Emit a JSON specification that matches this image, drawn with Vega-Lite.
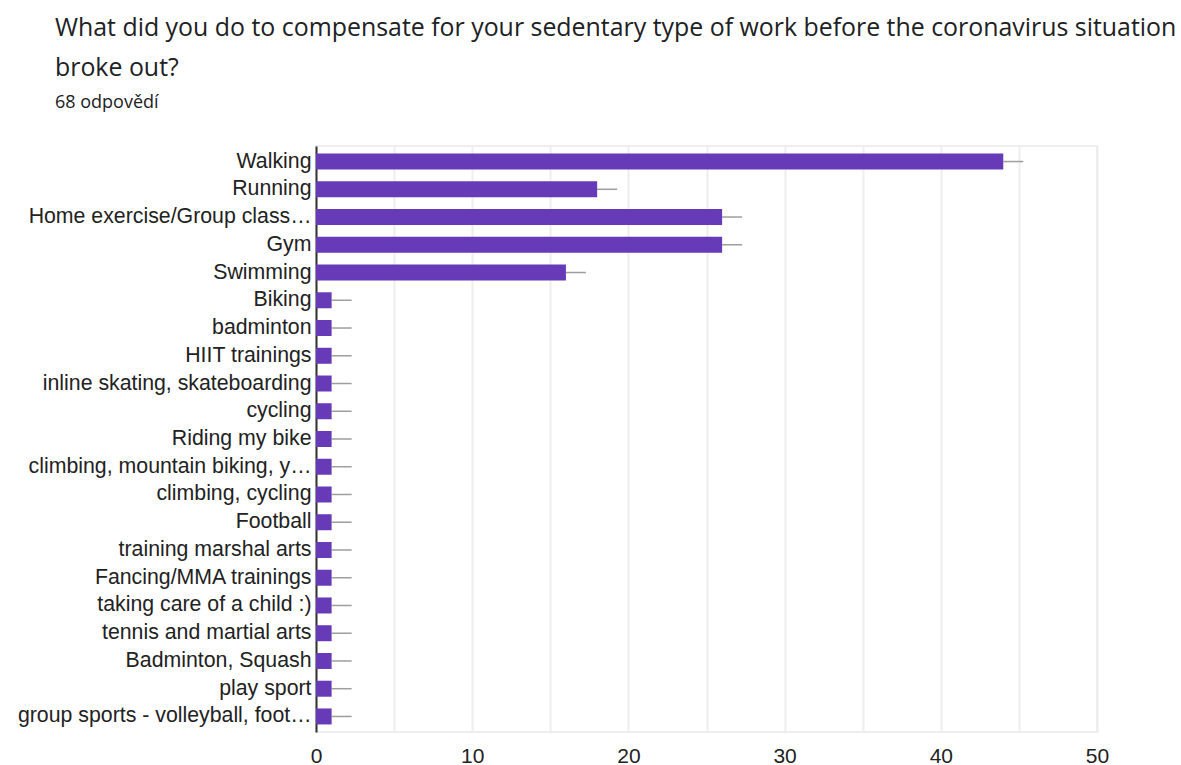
{
  "$schema": "https://vega.github.io/schema/vega-lite/v6.json",
  "autosize": "none",
  "width": 781,
  "height": 586,
  "padding": {"left": 316, "top": 146, "right": 84, "bottom": 33},
  "background": "white",
  "title": {
    "text": ["What did you do to compensate for your sedentary type of work before the coronavirus situation", "broke out?"],
    "subtitle": "68 odpovědí",
    "anchor": "start",
    "frame": "group",
    "dx": -261,
    "offset": 34,
    "font": "Open Sans",
    "fontSize": 24.9,
    "fontWeight": "normal",
    "lineHeight": 40,
    "color": "#202124",
    "subtitleFont": "Open Sans",
    "subtitleFontSize": 18,
    "subtitleColor": "#202124",
    "subtitlePadding": 13
  },
  "config": {
    "view": {"stroke": "#eeeeee", "strokeWidth": 2},
    "axis": {"labelFont": "Liberation Sans", "labelColor": "#222222"}
  },
  "data": {
    "values": [
      {"activity": "Walking", "count": 44},
      {"activity": "Running", "count": 18},
      {"activity": "Home exercise/Group class…", "count": 26},
      {"activity": "Gym", "count": 26},
      {"activity": "Swimming", "count": 16},
      {"activity": "Biking", "count": 1},
      {"activity": "badminton", "count": 1},
      {"activity": "HIIT trainings", "count": 1},
      {"activity": "inline skating, skateboarding", "count": 1},
      {"activity": "cycling", "count": 1},
      {"activity": "Riding my bike", "count": 1},
      {"activity": "climbing, mountain biking, y…", "count": 1},
      {"activity": "climbing, cycling", "count": 1},
      {"activity": "Football", "count": 1},
      {"activity": "training marshal arts", "count": 1},
      {"activity": "Fancing/MMA trainings", "count": 1},
      {"activity": "taking care of a child :)", "count": 1},
      {"activity": "tennis and martial arts", "count": 1},
      {"activity": "Badminton, Squash", "count": 1},
      {"activity": "play sport", "count": 1},
      {"activity": "group sports - volleyball, foot…", "count": 1}
    ]
  },
  "encoding": {
    "y": {
      "field": "activity",
      "type": "nominal",
      "sort": null,
      "title": null,
      "scale": {"paddingInner": 0, "paddingOuter": 0.06},
      "axis": {
        "domain": true,
        "domainColor": "#333333",
        "domainWidth": 2,
        "ticks": false,
        "labelPadding": 5,
        "labelFontSize": 21.3,
        "labelLimit": 400
      }
    },
    "x": {
      "field": "count",
      "type": "quantitative",
      "title": null,
      "scale": {"domain": [0, 50], "nice": false},
      "axis": {
        "values": [0, 5, 10, 15, 20, 25, 30, 35, 40, 45, 50],
        "labelExpr": "datum.value % 10 === 0 ? datum.label : ''",
        "domain": false,
        "ticks": false,
        "grid": true,
        "gridColor": "#eeeeee",
        "gridWidth": 2,
        "labelPadding": 13,
        "labelFontSize": 21,
        "labelFlush": false
      }
    }
  },
  "layer": [
    {
      "mark": {"type": "rule", "color": "#9e9e9e", "strokeWidth": 1.5, "x2Offset": 20},
      "encoding": {"x2": {"field": "count"}}
    },
    {
      "mark": {"type": "bar", "color": "#673ab7", "size": 16}
    }
  ]
}
